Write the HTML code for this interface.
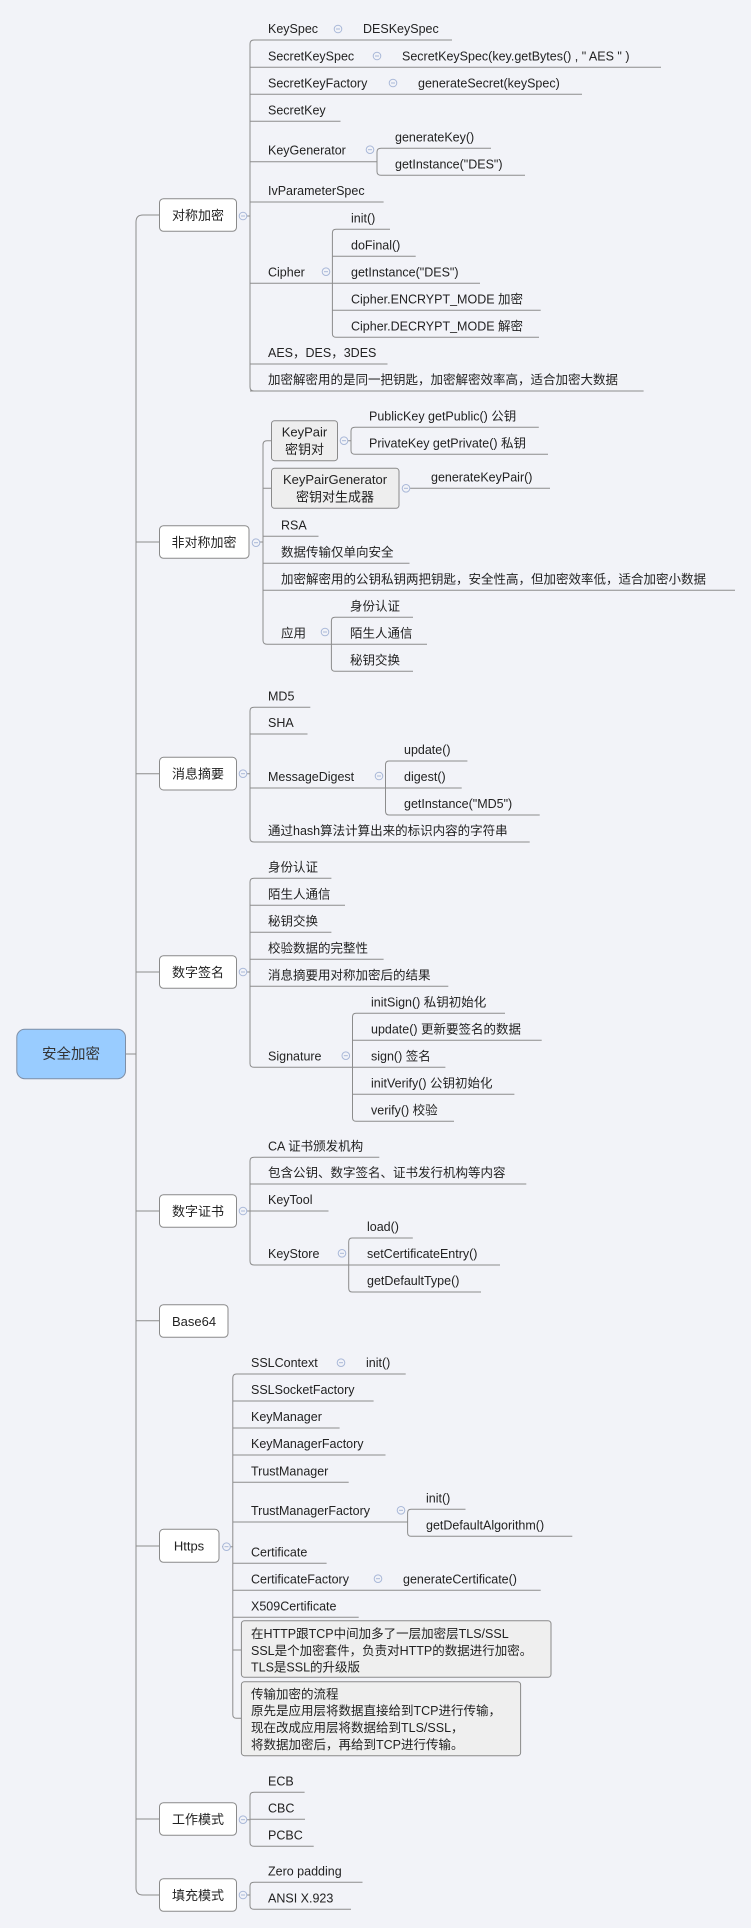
<!DOCTYPE html>
<html><head><meta charset="utf-8"><style>
html,body{margin:0;padding:0;background:#f2f3f8;}
svg{display:block}
text{font-family:"Liberation Sans","Noto Sans CJK SC",sans-serif;font-size:12.5px;fill:#222;}
.l{stroke:#8c8c8c;stroke-width:1;fill:none}
.b{fill:#fff;stroke:#8a8a8a;stroke-width:1}
.g{fill:#eeeeee;stroke:#8a8a8a;stroke-width:1}
.n{fill:#efefef;stroke:#8a8a8a;stroke-width:1}
.c{fill:#f2f3f8;stroke:#a9b8d8;stroke-width:1}
.m{stroke:#a9b8d8;stroke-width:1}
.bt{font-size:13px;text-anchor:middle}
</style></head><body>
<svg width="751" height="1928" viewBox="0 0 751 1928" xmlns="http://www.w3.org/2000/svg">
<defs>
<g id="ci"><circle class="c" cx="0" cy="0" r="3.8"/><line class="m" x1="-2" y1="0" x2="2" y2="0"/></g>
</defs>
<!-- root -->
<path class="l" d="M125.5,1054 H136 M143,215 Q136,215 136,222 V1888 Q136,1895 143,1895 H159.5
M136,542 H159.5 M136,773.7 H159.5 M136,972 H159.5 M136,1211 H159.5 M136,1320.7 H159.5 M136,1546 H159.5 M136,1819 H159.5 M143,215 H159.5"/>
<rect x="16.8" y="1029.3" width="108.7" height="49.4" rx="8" fill="#99ccff" stroke="#7f8fa6"/>
<text x="71" y="1059" style="font-size:14.5px;text-anchor:middle;fill:#333">安全加密</text>

<!-- 对称加密 -->
<rect class="b" x="159.5" y="198.7" width="77" height="32.6" rx="4"/>
<text class="bt" x="198" y="220">对称加密</text>
<path class="l" d="M240,216 H250 M250,44 Q250,40 254,40 M250,44 V387 Q250,391 254,391
M254,40 H452 M250,67.3 H661 M250,94.3 H582 M250,121.3 H340.5 M250,161.7 H377 M250,202 H383.6 M250,283.3 H332.4 M250,364 H387.5 M250,391 H643.6
M377,152 Q377,148.3 381,148.3 H491 M377,152 V171.5 Q377,175.3 381,175.3 H525
M332.4,233 Q332.4,229.3 336,229.3 H390 M332.4,233 V333.5 Q332.4,337.3 336,337.3 H539 M332.4,256.3 H415.7 M332.4,283.3 H480 M332.4,310.3 H540.7"/>
<use href="#ci" x="243" y="216"/>
<use href="#ci" x="338" y="29"/><use href="#ci" x="377" y="56"/><use href="#ci" x="393" y="83"/><use href="#ci" x="370" y="149.7"/><use href="#ci" x="326" y="271.7"/>
<text x="268" y="33">KeySpec</text><text x="363" y="33">DESKeySpec</text>
<text x="268" y="60.3">SecretKeySpec</text><text x="402" y="60.3">SecretKeySpec(key.getBytes() , " AES " )</text>
<text x="268" y="87.3">SecretKeyFactory</text><text x="418" y="87.3">generateSecret(keySpec)</text>
<text x="268" y="114.3">SecretKey</text>
<text x="268" y="154.7">KeyGenerator</text><text x="395" y="141.3">generateKey()</text><text x="395" y="168.3">getInstance("DES")</text>
<text x="268" y="195">IvParameterSpec</text>
<text x="268" y="276.3">Cipher</text>
<text x="351" y="222.3">init()</text><text x="351" y="249.3">doFinal()</text><text x="351" y="276.3">getInstance("DES")</text><text x="351" y="303.3">Cipher.ENCRYPT_MODE 加密</text><text x="351" y="330.3">Cipher.DECRYPT_MODE 解密</text>
<text x="268" y="357">AES，DES，3DES</text>
<text x="268" y="384">加密解密用的是同一把钥匙，加密解密效率高，适合加密大数据</text>

<!-- 非对称加密 -->
<rect class="b" x="159.5" y="525.7" width="89.5" height="32.6" rx="4"/>
<text class="bt" x="204" y="547">非对称加密</text>
<path class="l" d="M253,542 H263 M263,444.7 Q263,440.7 267,440.7 H271.5 M263,444.7 V640.3 Q263,644.3 267,644.3 H331.4 M263,488.3 H271.5 M263,536.3 H318.5 M263,563.3 H409.5 M263,590.3 H735
M341,440.7 H351 M351,431 Q351,427.3 355,427.3 H538.8 M351,431 V450.5 Q351,454.3 355,454.3 H548
M402,488.3 H550
M331.4,621 Q331.4,617.3 335,617.3 H413 M331.4,621 V667.5 Q331.4,671.3 335,671.3 H413 M331.4,644.3 H427"/>
<rect class="g" x="271.5" y="420.7" width="66" height="40" rx="3"/>
<text class="bt" x="304.5" y="436.5">KeyPair</text><text class="bt" x="304.5" y="454">密钥对</text>
<rect class="g" x="271.5" y="468.3" width="127.5" height="40" rx="3"/>
<text class="bt" x="335" y="484">KeyPairGenerator</text><text class="bt" x="335" y="501.5">密钥对生成器</text>
<use href="#ci" x="256" y="542.7"/><use href="#ci" x="344" y="440.7"/><use href="#ci" x="406" y="488.3"/><use href="#ci" x="325" y="632"/>
<text x="369" y="420.3">PublicKey getPublic() 公钥</text><text x="369" y="447.3">PrivateKey getPrivate() 私钥</text>
<text x="431" y="481.3">generateKeyPair()</text>
<text x="281" y="529.3">RSA</text><text x="281" y="556.3">数据传输仅单向安全</text>
<text x="281" y="583.3">加密解密用的公钥私钥两把钥匙，安全性高，但加密效率低，适合加密小数据</text>
<text x="281" y="637.3">应用</text>
<text x="350" y="610.3">身份认证</text><text x="350" y="637.3">陌生人通信</text><text x="350" y="664.3">秘钥交换</text>

<!-- 消息摘要 -->
<rect class="b" x="159.5" y="757.3" width="77" height="32.7" rx="4"/>
<text class="bt" x="198" y="778.5">消息摘要</text>
<path class="l" d="M240,773.7 H250 M250,711 Q250,707.3 254,707.3 H310.3 M250,711 V838 Q250,842 254,842 H529.7 M250,734 H307.5 M250,788 H385.5
M385.5,765 Q385.5,761 389,761 H467.4 M385.5,765 V811 Q385.5,815 389,815 H539.7 M385.5,788 H461.7"/>
<use href="#ci" x="243" y="773.7"/><use href="#ci" x="379" y="776"/>
<text x="268" y="700.3">MD5</text><text x="268" y="727">SHA</text><text x="268" y="781">MessageDigest</text>
<text x="404" y="754">update()</text><text x="404" y="781">digest()</text><text x="404" y="808">getInstance("MD5")</text>
<text x="268" y="835">通过hash算法计算出来的标识内容的字符串</text>

<!-- 数字签名 -->
<rect class="b" x="159.5" y="955.7" width="77" height="32.6" rx="4"/>
<text class="bt" x="198" y="977">数字签名</text>
<path class="l" d="M240,972 H250 M250,882 Q250,878.3 254,878.3 H331.4 M250,882 V1063.5 Q250,1067.3 254,1067.3 H352.5 M250,905.3 H345 M250,932.3 H331.4 M250,959.3 H383.6 M250,986.3 H448.3
M352.5,1017 Q352.5,1013.3 356,1013.3 H505 M352.5,1017 V1117.5 Q352.5,1121.3 356,1121.3 H454 M352.5,1040.3 H541.7 M352.5,1067.3 H445.4 M352.5,1094.3 H514.4"/>
<use href="#ci" x="243" y="972"/><use href="#ci" x="345.8" y="1055.7"/>
<text x="268" y="871.3">身份认证</text><text x="268" y="898.3">陌生人通信</text><text x="268" y="925.3">秘钥交换</text><text x="268" y="952.3">校验数据的完整性</text><text x="268" y="979.3">消息摘要用对称加密后的结果</text>
<text x="268" y="1060.3">Signature</text>
<text x="371" y="1006.3">initSign() 私钥初始化</text><text x="371" y="1033.3">update() 更新要签名的数据</text><text x="371" y="1060.3">sign() 签名</text><text x="371" y="1087.3">initVerify() 公钥初始化</text><text x="371" y="1114.3">verify() 校验</text>

<!-- 数字证书 -->
<rect class="b" x="159.5" y="1194.7" width="77" height="32.6" rx="4"/>
<text class="bt" x="198" y="1216">数字证书</text>
<path class="l" d="M240,1211 H250 M250,1161 Q250,1157.3 254,1157.3 H379.3 M250,1161 V1261 Q250,1265 254,1265 H348.7 M250,1184 H526.3 M250,1211 H328.5
M348.7,1242 Q348.7,1238 352,1238 H412.8 M348.7,1242 V1288 Q348.7,1292 352,1292 H481 M348.7,1265 H500"/>
<use href="#ci" x="243" y="1211"/><use href="#ci" x="342" y="1253.3"/>
<text x="268" y="1150.3">CA 证书颁发机构</text><text x="268" y="1177">包含公钥、数字签名、证书发行机构等内容</text><text x="268" y="1204">KeyTool</text><text x="268" y="1258">KeyStore</text>
<text x="367" y="1231">load()</text><text x="367" y="1258">setCertificateEntry()</text><text x="367" y="1285">getDefaultType()</text>

<!-- Base64 -->
<rect class="b" x="159.5" y="1304.7" width="68.5" height="32.6" rx="4"/>
<text class="bt" x="194" y="1326">Base64</text>

<!-- Https -->
<rect class="b" x="159.5" y="1529.3" width="59.5" height="33" rx="4"/>
<text class="bt" x="189" y="1550.5">Https</text>
<path class="l" d="M222,1546.7 H232.8 M232.8,1378 Q232.8,1374 236.5,1374 H405.7 M232.8,1378 V1714.5 Q232.8,1718.3 236.5,1718.3 H241.4 M232.8,1650 H241.4
M232.8,1401 H373.6 M232.8,1428 H339.6 M232.8,1455 H385.5 M232.8,1482.3 H348.7 M232.8,1522 H407.6 M232.8,1563.3 H326.6 M232.8,1590.3 H540.7 M232.8,1617.3 H358.7
M407.6,1513 Q407.6,1509.3 411,1509.3 H465.5 M407.6,1513 V1532.5 Q407.6,1536.3 411,1536.3 H572.3"/>
<use href="#ci" x="226.5" y="1546.7"/><use href="#ci" x="341" y="1362.7"/><use href="#ci" x="401" y="1510.3"/><use href="#ci" x="378" y="1578.7"/>
<text x="251" y="1367">SSLContext</text><text x="366" y="1367">init()</text>
<text x="251" y="1394">SSLSocketFactory</text><text x="251" y="1421">KeyManager</text><text x="251" y="1448">KeyManagerFactory</text><text x="251" y="1475.3">TrustManager</text>
<text x="251" y="1515">TrustManagerFactory</text><text x="426" y="1502.3">init()</text><text x="426" y="1529.3">getDefaultAlgorithm()</text>
<text x="251" y="1556.3">Certificate</text><text x="251" y="1583.3">CertificateFactory</text><text x="403" y="1583.3">generateCertificate()</text>
<text x="251" y="1610.3">X509Certificate</text>
<rect class="n" x="241.4" y="1620.7" width="309.6" height="56.6" rx="3"/>
<text x="251" y="1638">在HTTP跟TCP中间加多了一层加密层TLS/SSL</text>
<text x="251" y="1655">SSL是个加密套件，负责对HTTP的数据进行加密。</text>
<text x="251" y="1671.7">TLS是SSL的升级版</text>
<rect class="n" x="241.4" y="1681.7" width="279.2" height="74" rx="3"/>
<text x="251" y="1698.3">传输加密的流程</text>
<text x="251" y="1715">原先是应用层将数据直接给到TCP进行传输，</text>
<text x="251" y="1732">现在改成应用层将数据给到TLS/SSL，</text>
<text x="251" y="1749">将数据加密后，再给到TCP进行传输。</text>

<!-- 工作模式 -->
<rect class="b" x="159.5" y="1802.7" width="77" height="32.6" rx="4"/>
<text class="bt" x="198" y="1824">工作模式</text>
<path class="l" d="M240,1819.7 H250 M250,1796 Q250,1792.3 254,1792.3 H304.6 M250,1796 V1842.5 Q250,1846.3 254,1846.3 H313.7 M250,1819.3 H305"/>
<use href="#ci" x="243" y="1819.7"/>
<text x="268" y="1785.3">ECB</text><text x="268" y="1812.3">CBC</text><text x="268" y="1839.3">PCBC</text>

<!-- 填充模式 -->
<rect class="b" x="159.5" y="1878.7" width="77" height="32.6" rx="4"/>
<text class="bt" x="198" y="1900">填充模式</text>
<path class="l" d="M240,1895 H250 M250,1886 Q250,1882.3 254,1882.3 H362.5 M250,1886 V1905.5 Q250,1909.3 254,1909.3 H351"/>
<use href="#ci" x="243" y="1895"/>
<text x="268" y="1875.3">Zero padding</text><text x="268" y="1902.3">ANSI X.923</text>
</svg>
</body></html>
